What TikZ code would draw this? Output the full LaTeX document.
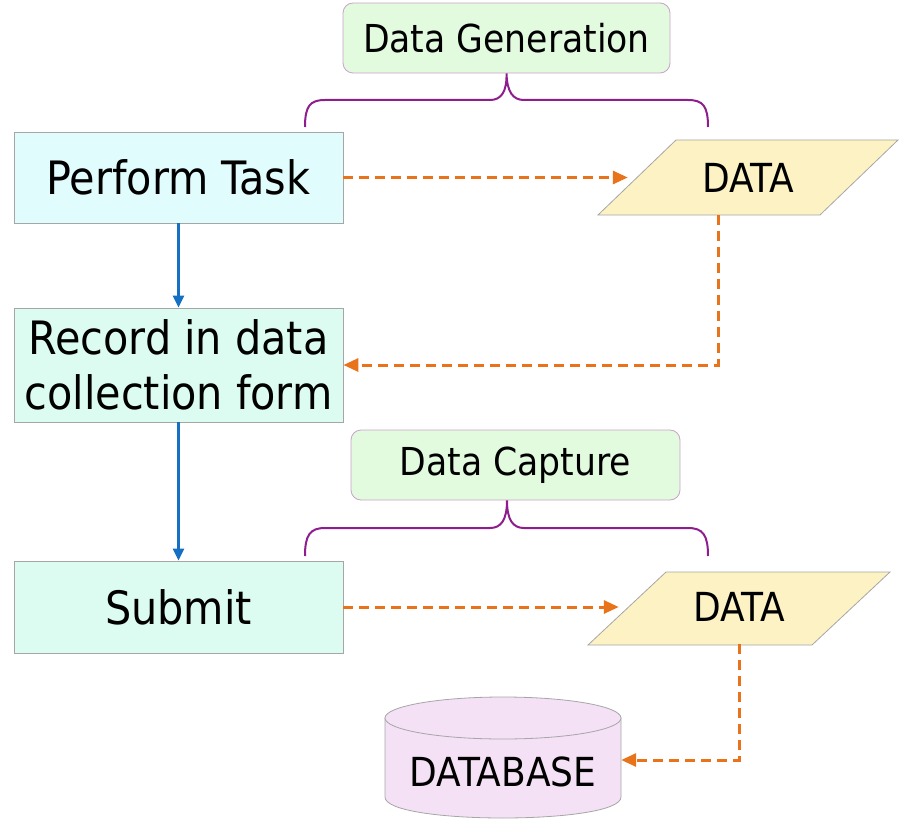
\documentclass[tikz,border=0pt]{standalone}
\usepackage{fontspec}
\setmainfont{DejaVu Sans Condensed}
\usepackage{tikz}
\usetikzlibrary{arrows.meta}

\definecolor{boxgray}{HTML}{A6A6A6}
\definecolor{taskcyan}{HTML}{E0FCFC}
\definecolor{formgreen}{HTML}{DCFCF2}
\definecolor{phasegreen}{HTML}{E2FBDF}
\definecolor{phaseedge}{HTML}{C9A3C9}
\definecolor{datayellow}{HTML}{FCF2C4}
\definecolor{dbpink}{HTML}{F5E1F5}
\definecolor{floworange}{HTML}{E8731A}
\definecolor{stepblue}{HTML}{1570C4}
\definecolor{bracepurple}{HTML}{8E1E8E}

\tikzset{
  taskbox/.style={draw=boxgray, line width=0.8pt, minimum width=329pt, align=center,
    font=\fontsize{46}{55}\selectfont},
  phasebox/.style={draw=phaseedge, line width=0.8pt, fill=phasegreen, rounded corners=10pt,
    minimum height=70pt, font=\fontsize{38.5}{44}\selectfont},
  datashape/.style={draw=boxgray, line width=0.8pt, fill=datayellow},
  dbshape/.style={draw=boxgray, line width=0.8pt, fill=dbpink},
  label/.style={inner sep=0pt, font=\fontsize{40}{44}\selectfont},
  flow/.style={floworange, line width=3pt, dash pattern=on 10pt off 6pt,
    -{Triangle[length=15pt,width=13pt]}},
  next/.style={stepblue, line width=2.8pt, -{Triangle[length=12pt,width=11pt]}},
  brace/.style={bracepurple, line width=2pt}
}

\begin{document}
\begin{tikzpicture}[x=1pt,y=-1pt]
  \useasboundingbox (0,0) rectangle (900,840);

  % Steps on the left
  \node[taskbox, fill=taskcyan, minimum height=91pt] (perform) at (178.5,177.5) {Perform Task};
  \node[taskbox, fill=formgreen, minimum height=114pt] (record) at (178.5,365) {Record in data\\collection form};
  \node[taskbox, fill=formgreen, minimum height=92pt] (submit) at (178.5,607) {Submit};
  \draw[next] (perform) -- (record);
  \draw[next] (record) -- (submit);

  % Phase labels with braces
  \node[phasebox, minimum width=327pt] (gen) at (506.5,38) {Data Generation};
  \node[phasebox, minimum width=329pt] (capture) at (515.5,465) {Data Capture};
  \coordinate (gentip) at (gen.south);
  \coordinate (captip) at ([xshift=-8.5pt]capture.south);
  \draw[brace] (305,127) .. controls (305,106) and (310,100) .. (325,100) -- (490,100)
    .. controls (501,100) and (507,92) .. (gentip)
    .. controls (507,92) and (513,100) .. (524,100) -- (688,100)
    .. controls (703,100) and (708,106) .. (708,127);
  \draw[brace] (305,556) .. controls (305,535) and (310,528) .. (325,528) -- (490,528)
    .. controls (501,528) and (507,520) .. (captip)
    .. controls (507,520) and (513,528) .. (524,528) -- (688,528)
    .. controls (703,528) and (708,535) .. (708,556);

  % Data
  \draw[datashape] (598,215) -- (676,140) -- (898,140) -- (820,215) -- cycle;
  \node[label, minimum width=240pt, minimum height=75pt] (data1) at (748,177.5) {DATA};
  \draw[datashape] (588,645) -- (666,572) -- (890,572) -- (812,645) -- cycle;
  \node[label, minimum width=240pt, minimum height=73pt] (data2) at (739,607) {DATA};

  % Database
  \draw[dbshape] (385,718) -- (385,797) .. controls (385,825) and (621,825) .. (621,797)
    -- (621,718) -- cycle;
  \draw[dbshape] (503,718) ellipse [x radius=118pt, y radius=21pt];
  \node[label, minimum width=236pt] (db) at (503,772) {DATABASE};

  \draw[flow] (perform) -- (data1);
  \draw[flow] ([xshift=-30pt]data1.south) |- (record);
  \draw[flow] (submit) -- (data2);
  \draw[flow] (data2.south) |- ([yshift=12pt]db.east);
\end{tikzpicture}
\end{document}
